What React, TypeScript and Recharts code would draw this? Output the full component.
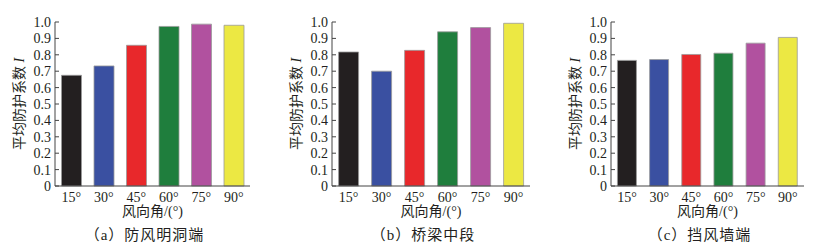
import React from "react";
import { BarChart, Bar, XAxis, YAxis, Cell } from "recharts";

const angles = ["15°", "30°", "45°", "60°", "75°", "90°"];
const barColors = ["#231f20", "#3a50a1", "#e8282b", "#1f7e3d", "#b1519f", "#ece843"];
const yTicks = [0, 0.1, 0.2, 0.3, 0.4, 0.5, 0.6, 0.7, 0.8, 0.9, 1.0];

const portalEnd = [0.675, 0.732, 0.858, 0.973, 0.987, 0.98];
const bridgeMiddle = [0.817, 0.7, 0.827, 0.94, 0.966, 0.992];
const wallEnd = [0.766, 0.771, 0.802, 0.81, 0.871, 0.906];

const panels = [
  { caption: "（a）防风明洞端", values: portalEnd, left: 0, width: 275, right: 25 },
  { caption: "（b）桥梁中段", values: bridgeMiddle, left: 277, width: 275, right: 22 },
  { caption: "（c）挡风墙端", values: wallEnd, left: 556, width: 271, right: 23 },
];

const PLOT_LEFT = 55;
const serif = "'Liberation Serif', 'Times New Roman', 'Noto Sans CJK SC', serif";
const cjk = "'Liberation Serif', 'Noto Sans CJK SC', sans-serif";
const ink = "#231f20";

function YTick(props: any) {
  const { y, payload } = props;
  const v = payload.value as number;
  const label = v === 0 ? "0" : v.toFixed(1);
  return (
    <g>
      <line x1={PLOT_LEFT} x2={PLOT_LEFT + 4} y1={y} y2={y} stroke="#444" strokeWidth={1} />
      <text
        x={PLOT_LEFT - 4}
        y={y}
        dy="0.35em"
        textAnchor="end"
        fontSize={14}
        fontFamily={serif}
        fill={ink}
      >
        {label}
      </text>
    </g>
  );
}

function Panel({ caption, values, left, width, right }: any) {
  const data = angles.map((a, i) => ({ angle: a, value: values[i] }));
  const plotRight = width - right;
  const mid = (PLOT_LEFT + plotRight) / 2;
  return (
    <div style={{ position: "absolute", left, top: 0, width, height: 249 }}>
      <BarChart
        width={width}
        height={249}
        data={data}
        margin={{ top: 22, right, bottom: 33, left: 15 }}
        barCategoryGap="20%"
      >
        <XAxis
          dataKey="angle"
          tickLine={false}
          tickSize={0}
          tickMargin={6}
          height={30}
          axisLine={{ stroke: "#444", strokeWidth: 1 }}
          tick={{ fontSize: 14, fontFamily: serif, fill: ink }}
          interval={0}
        />
        <XAxis
          xAxisId="top"
          dataKey="angle"
          orientation="top"
          height={0}
          tick={false}
          tickLine={false}
          axisLine={{ stroke: "#444", strokeWidth: 1 }}
        />
        <YAxis
          domain={[0, 1]}
          ticks={yTicks}
          width={40}
          tickLine={false}
          axisLine={{ stroke: "#444", strokeWidth: 1 }}
          tick={<YTick />}
          interval={0}
        />
        <YAxis
          yAxisId="r"
          orientation="right"
          domain={[0, 1]}
          width={0}
          tick={false}
          tickLine={false}
          axisLine={{ stroke: "#444", strokeWidth: 1 }}
        />
        <Bar dataKey="value" isAnimationActive={false} stroke="#9a9a9a" strokeWidth={0.8}>
          {data.map((d, i) => (
            <Cell key={d.angle} fill={barColors[i]} />
          ))}
        </Bar>
      </BarChart>
      <div
        style={{
          position: "absolute",
          left: 20 - 60,
          top: 104 - 9,
          width: 120,
          height: 18,
          transform: "rotate(-90deg)",
          textAlign: "center",
          fontSize: 14,
          lineHeight: "18px",
          fontFamily: cjk,
          color: ink,
          whiteSpace: "nowrap",
        }}
      >
        平均防护系数 <i style={{ fontFamily: serif }}>I</i>
      </div>
      <div
        style={{
          position: "absolute",
          left: mid - 60,
          top: 203,
          width: 120,
          textAlign: "center",
          fontSize: 14,
          lineHeight: "18px",
          fontFamily: cjk,
          color: ink,
          whiteSpace: "nowrap",
        }}
      >
        风向角/(°)
      </div>
      <div
        style={{
          position: "absolute",
          left: mid - 8 - 80,
          top: 225,
          width: 160,
          textAlign: "center",
          fontSize: 15,
          lineHeight: "20px",
          fontFamily: cjk,
          color: ink,
          whiteSpace: "nowrap",
          letterSpacing: 1,
        }}
      >
        {caption}
      </div>
    </div>
  );
}

export default function App() {
  return (
    <div
      style={{
        position: "absolute",
        left: 0,
        top: 0,
        width: 827,
        height: 249,
        background: "#fff",
      }}
    >
      {panels.map((p) => (
        <Panel key={p.caption} {...p} />
      ))}
    </div>
  );
}
